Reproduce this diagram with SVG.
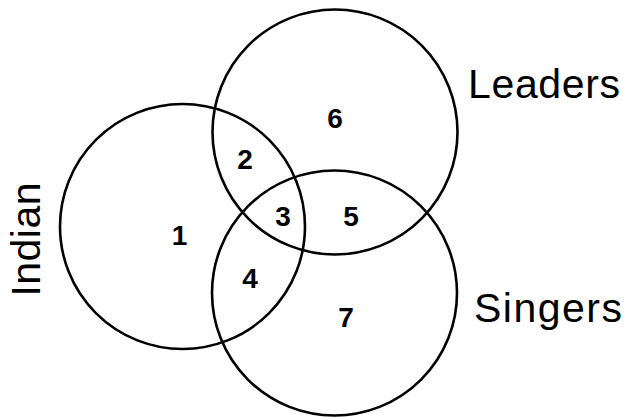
<svg xmlns="http://www.w3.org/2000/svg" width="625" height="419" viewBox="0 0 625 419">
<style>
.c{fill:none;stroke:#000;stroke-width:2.6}
.n{font-family:"Liberation Sans",Arial,sans-serif;font-weight:bold;font-size:28px;text-anchor:middle;fill:#000}
.l{font-family:"Liberation Sans",Arial,sans-serif;font-size:41px;fill:#000}
</style>
<rect width="625" height="419" fill="#fff"/>
<g id="indian"><circle class="c" cx="182.5" cy="226.5" r="122.5"/>
<text class="l" transform="translate(40,239.5) rotate(-90)" text-anchor="middle" textLength="114" lengthAdjust="spacing">Indian</text></g>
<g id="leaders"><circle class="c" cx="335" cy="132" r="122.5"/>
<text class="l" x="468" y="98" textLength="152" lengthAdjust="spacing">Leaders</text></g>
<g id="singers"><circle class="c" cx="334.5" cy="293" r="122.5"/>
<text class="l" x="474" y="322" textLength="148" lengthAdjust="spacing">Singers</text></g>
<g id="regions">
<text class="n" x="179.5" y="245">1</text>
<text class="n" x="245" y="169">2</text>
<text class="n" x="283" y="226">3</text>
<text class="n" x="250" y="288">4</text>
<text class="n" x="351" y="226">5</text>
<text class="n" x="335" y="128">6</text>
<text class="n" x="346" y="327">7</text>
</g>
<g id="connectors"/>
</svg>
